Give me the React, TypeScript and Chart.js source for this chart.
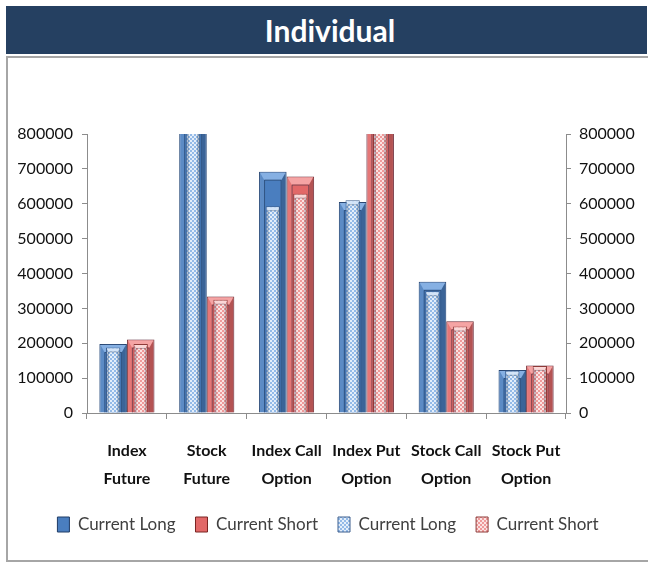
import React, { useEffect, useRef } from "react";
import { Chart, registerables } from "chart.js";

Chart.register(...registerables);

const categories: string[][] = [
  ["Index", "Future"],
  ["Stock", "Future"],
  ["Index Call", "Option"],
  ["Index Put", "Option"],
  ["Stock Call", "Option"],
  ["Stock Put", "Option"],
];

// primary (solid) series
const currentLongSolid = [198000, 1200000, 692000, 605000, 376000, 123000];
const currentShortSolid = [211000, 334000, 678000, 1150000, 263000, 136000];
// secondary (hatched) series
const currentLongHatch = [188000, 1150000, 593000, 610000, 349000, 121000];
const currentShortHatch = [198000, 325000, 629000, 1100000, 248000, 135000];

const yTicks = [0, 100000, 200000, 300000, 400000, 500000, 600000, 700000, 800000];

const FONT = "Lato, 'Open Sans', sans-serif";

function makePattern(base: string, light: string): CanvasPattern | string {
  const c = document.createElement("canvas");
  c.width = 4;
  c.height = 4;
  const g = c.getContext("2d");
  if (!g) return base;
  g.fillStyle = base;
  g.fillRect(0, 0, 4, 4);
  g.fillStyle = light;
  g.fillRect(0, 0, 2, 2);
  g.fillRect(2, 2, 2, 2);
  const p = g.createPattern(c, "repeat");
  return p || base;
}

const bevelPlugin = {
  id: "bevel",
  beforeDatasetDraw(chart: any, args: any) {
    const ds = chart.data.datasets[args.index];
    if (ds.kind === "solid") {
      const ctx = chart.ctx;
      ctx.save();
      ctx.shadowColor = "rgba(120,160,215,0.45)";
      ctx.shadowBlur = 9;
    }
  },
  afterDatasetDraw(chart: any, args: any) {
    const ds = chart.data.datasets[args.index];
    const ctx = chart.ctx;
    if (ds.kind === "solid") ctx.restore();
    const a = chart.chartArea;
    ctx.save();
    ctx.beginPath();
    ctx.rect(a.left, a.top, a.right - a.left, a.bottom - a.top);
    ctx.clip();
    const solid = ds.kind === "solid";
    args.meta.data.forEach((el: any) => {
      const { x, y, base, width } = el.getProps(["x", "y", "base", "width"], true);
      const l = x - width / 2;
      const r = x + width / 2;
      const t = y;
      const b = base;
      const s = solid ? 5 : 2;
      const ti = solid ? 8 : 4;
      ctx.beginPath();
      ctx.moveTo(l + 1, t + 1);
      ctx.lineTo(r - 1, t + 1);
      ctx.lineTo(r - s, t + ti);
      ctx.lineTo(l + s, t + ti);
      ctx.closePath();
      ctx.fillStyle = ds.bevelLight;
      ctx.fill();
      ctx.beginPath();
      ctx.moveTo(l + 1, t + 1);
      ctx.lineTo(l + s, t + ti);
      ctx.lineTo(l + s, b);
      ctx.lineTo(l + 1, b);
      ctx.closePath();
      ctx.fillStyle = solid ? "rgba(255,255,255,0.10)" : "rgba(40,70,120,0.25)";
      ctx.fill();
      ctx.beginPath();
      ctx.moveTo(r - 1, t + 1);
      ctx.lineTo(r - s, t + ti);
      ctx.lineTo(r - s, b);
      ctx.lineTo(r - 1, b);
      ctx.closePath();
      ctx.fillStyle = "rgba(0,0,0,0.2)";
      ctx.fill();
      ctx.strokeStyle = solid ? "rgba(20,35,60,0.45)" : "rgba(20,35,60,0.3)";
      ctx.lineWidth = 1;
      ctx.beginPath();
      ctx.moveTo(l + s + 0.5, b);
      ctx.lineTo(l + s + 0.5, t + ti + 0.5);
      ctx.lineTo(r - s - 0.5, t + ti + 0.5);
      ctx.lineTo(r - s - 0.5, b);
      ctx.stroke();
    });
    ctx.restore();
  },
};

export default function App() {
  const ref = useRef<HTMLCanvasElement>(null);

  useEffect(() => {
    if (!ref.current) return;
    Chart.defaults.font.family = FONT;
    const blueHatch = makePattern("#93BAE8", "#E4EEFA");
    const redHatch = makePattern("#EF9A9A", "#FBE3E3");

    const yAxis = (position: string, padding: number, width: number) => ({
      position,
      min: 0,
      max: 800000,
      stacked: false,
      afterBuildTicks: (s: any) => {
        s.ticks = yTicks.map((v) => ({ value: v }));
      },
      grid: { display: true, drawOnChartArea: false, tickLength: 5, color: "#8C8C8C" },
      border: { display: true, color: "#8C8C8C" },
      ticks: {
        color: "#111",
        font: { size: 16, family: FONT },
        padding,
        callback: (v: any) => String(v),
      },
      afterFit: (s: any) => {
        s.width = width;
      },
    });

    const chart = new Chart(ref.current, {
      type: "bar",
      data: {
        labels: categories,
        datasets: [
          {
            label: "Current Long",
            kind: "solid",
            bevelLight: "#86B0E3",
            data: currentLongSolid,
            backgroundColor: "#4A7EBF",
            borderColor: "#1F3C66",
            borderWidth: 1,
            stack: "long",
            yAxisID: "y",
            order: 1,
            clip: 0,
          } as any,
          {
            label: "Current Short",
            kind: "solid",
            bevelLight: "#F5A4A4",
            data: currentShortSolid,
            backgroundColor: "#E26868",
            borderColor: "#7A2422",
            borderWidth: 1,
            stack: "short",
            yAxisID: "y",
            order: 1,
            clip: 0,
          } as any,
          {
            label: "Current Long",
            kind: "hatch",
            bevelLight: "#D3E4F8",
            data: currentLongHatch,
            backgroundColor: blueHatch,
            borderColor: "#3D5F8E",
            borderWidth: 1,
            barPercentage: 0.52,
            stack: "long",
            yAxisID: "y2",
            order: 0,
            clip: 0,
          } as any,
          {
            label: "Current Short",
            kind: "hatch",
            bevelLight: "#FBD6D6",
            data: currentShortHatch,
            backgroundColor: redHatch,
            borderColor: "#8E3A38",
            borderWidth: 1,
            barPercentage: 0.52,
            stack: "short",
            yAxisID: "y2",
            order: 0,
            clip: 0,
          } as any,
        ],
      },
      options: {
        responsive: false,
        animation: false,
        layout: { padding: { top: 76, bottom: 17, left: 0, right: 0 } },
        datasets: { bar: { categoryPercentage: 0.69, barPercentage: 1 } },
        plugins: {
          title: { display: false },
          tooltip: { enabled: false },
          legend: {
            position: "bottom",
            labels: {
              boxWidth: 12,
              boxHeight: 15,
              padding: 20,
              color: "#404040",
              font: { size: 17, family: FONT },
              sort: (a: any, b: any) => a.datasetIndex - b.datasetIndex,
            },
          },
        },
        scales: {
          x: {
            type: "category",
            offset: true,
            grid: { display: true, drawOnChartArea: false, offset: true, tickLength: 6, color: "#8C8C8C" },
            border: { display: true, color: "#8C8C8C" },
            ticks: {
              color: "#111",
              font: { size: 16, weight: "bold", family: FONT, lineHeight: "28px" },
              padding: 18,
              maxRotation: 0,
              autoSkip: false,
            },
            afterFit: (s: any) => {
              s.height = 83;
            },
          },
          y: yAxis("left", 9, 79),
          y2: yAxis("right", 8, 82),
        },
      } as any,
      plugins: [bevelPlugin as any],
    });
    return () => chart.destroy();
  }, []);

  return (
    <div style={{ position: "absolute", left: 0, top: 0, width: 648, height: 563, overflow: "hidden", background: "#fff" }}>
      <div
        style={{
          position: "absolute",
          left: 6,
          top: 6,
          width: 641,
          height: 48,
          background: "#254061",
          color: "#fff",
          fontFamily: FONT,
          fontWeight: 700,
          fontSize: 30,
          display: "flex",
          alignItems: "center",
          justifyContent: "center",
          paddingLeft: 7,
          boxSizing: "border-box",
        }}
      >
        Individual
      </div>
      <div
        style={{
          position: "absolute",
          left: 6,
          top: 56,
          width: 700,
          height: 506,
          borderTop: "2px solid #A6A6A6",
          borderLeft: "2px solid #A6A6A6",
          borderBottom: "2px solid #A6A6A6",
          boxSizing: "border-box",
        }}
      />
      <canvas ref={ref} width={640} height={502} style={{ position: "absolute", left: 8, top: 58, width: 640, height: 502 }} />
    </div>
  );
}
